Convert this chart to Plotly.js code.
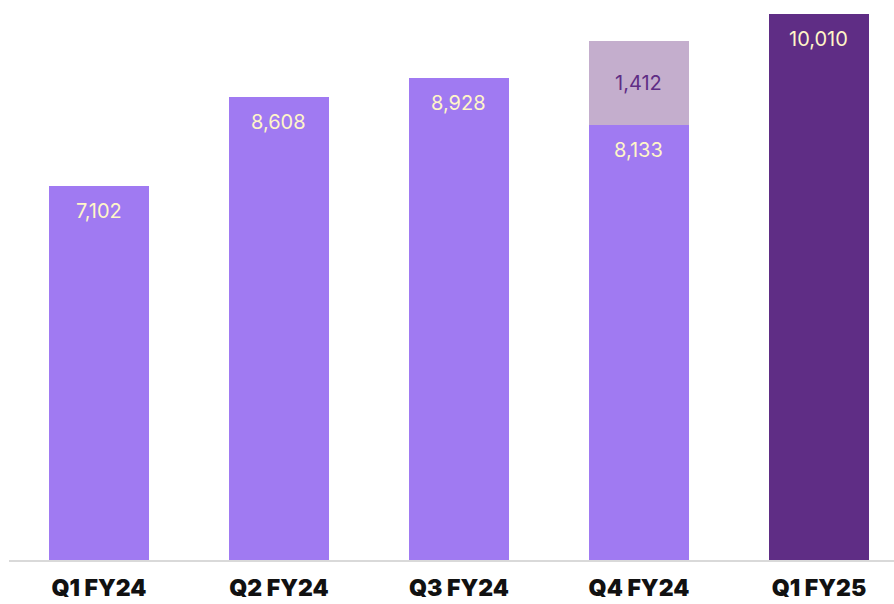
<!DOCTYPE html>
<html><head><meta charset="utf-8">
<script src="https://cdn.plot.ly/plotly-3.0.1.min.js"></script>
<style>html,body{margin:0;padding:0;background:#fff;}#chart{width:894px;height:604px;}</style>
</head><body><div id="chart"></div>
<script>
const categories = ["Q1 FY24", "Q2 FY24", "Q3 FY24", "Q4 FY24", "Q1 FY25"];
const baseValues = [7102, 8608, 8928, 8133, 0];
const extraValues = [0, 0, 0, 1412, 0];
const currentValues = [0, 0, 0, 0, 10010];

const fmt = v => v.toLocaleString('en-US');

const traces = [
  {type:'bar', x:categories, y:baseValues, marker:{color:'#a07af2'}, hoverinfo:'skip'},
  {type:'bar', x:categories, y:extraValues, marker:{color:'#c4aecd'}, hoverinfo:'skip'},
  {type:'bar', x:categories, y:currentValues, marker:{color:'#5f2d85'}, hoverinfo:'skip'}
];

const annotations = [];
categories.forEach((c,i)=>{
  if (baseValues[i] > 0) annotations.push({x:c, y:baseValues[i], yshift:-25, text:fmt(baseValues[i]), showarrow:false, font:{color:'#fff6c8', size:20, family:'Inter, sans-serif'}});
  if (extraValues[i] > 0) annotations.push({x:c, y:baseValues[i]+extraValues[i]/2, text:fmt(extraValues[i]), showarrow:false, font:{color:'#5f2d85', size:20, family:'Inter, sans-serif'}});
  if (currentValues[i] > 0) annotations.push({x:c, y:currentValues[i], yshift:-25, text:fmt(currentValues[i]), showarrow:false, font:{color:'#fff6c8', size:20, family:'Inter, sans-serif'}});
});

const layout = {
  width:894, height:604,
  margin:{l:9, r:0, t:0, b:44},
  barmode:'stack', bargap:0.444,
  showlegend:false,
  paper_bgcolor:'#fff', plot_bgcolor:'#fff',
  xaxis:{range:[-0.5, 4.417], showline:true, linecolor:'#d9d9d9', linewidth:2, showgrid:false, zeroline:false,
    ticks:'', ticklabelstandoff:6, tickfont:{family:'Inter, sans-serif', size:23, color:'#111', weight:900}},
  yaxis:{range:[762, 10247], visible:false, showgrid:false, zeroline:false},
  annotations:annotations
};
Plotly.newPlot('chart', traces, layout, {displayModeBar:false, staticPlot:true});
</script></body></html>
